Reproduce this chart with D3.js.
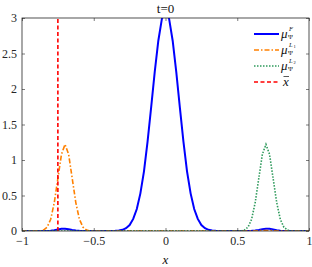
<!DOCTYPE html>
<html>
<head>
<meta charset="utf-8">
<script src="https://cdn.jsdelivr.net/npm/d3@7"></script>
<style>
  body { margin: 0; background: #fff; }
</style>
</head>
<body>
<div id="chart"></div>
<script>
// data: [x, mu] pairs
const blueF = [[-1,0],[-0.85,0],[-0.8,0.005],[-0.775,0.012],[-0.75,0.022],[-0.725,0.03],[-0.7,0.032],[-0.675,0.026],[-0.65,0.016],[-0.625,0.008],[-0.6,0.003],[-0.55,0],
  [-0.375,0],[-0.35,0.002],[-0.325,0.007],[-0.3,0.017],[-0.275,0.039],[-0.25,0.084],[-0.225,0.17],[-0.2,0.31],[-0.175,0.53],[-0.15,0.84],[-0.125,1.26],[-0.1,1.74],[-0.075,2.24],[-0.05,2.68],[-0.025,2.99],
  [0,3.1],[0.025,2.99],[0.05,2.68],[0.075,2.24],[0.1,1.74],[0.125,1.26],[0.15,0.84],[0.175,0.53],[0.2,0.31],[0.225,0.17],[0.25,0.084],[0.275,0.039],[0.3,0.017],[0.325,0.007],[0.35,0.002],[0.375,0],
  [0.55,0],[0.6,0.003],[0.625,0.008],[0.65,0.016],[0.675,0.026],[0.7,0.032],[0.725,0.03],[0.75,0.022],[0.775,0.012],[0.8,0.005],[0.85,0],[1,0]]
const orangeL1 = [[-1,0],[-0.875,0],[-0.85,0.014],[-0.825,0.054],[-0.8,0.165],[-0.775,0.40],[-0.75,0.74],[-0.725,1.08],[-0.7,1.22],[-0.675,1.08],[-0.65,0.74],[-0.625,0.40],[-0.6,0.165],[-0.575,0.054],[-0.55,0.014],[-0.525,0],
  [0.6,0],[0.65,0.004],[0.7,0.008],[0.75,0.004],[0.8,0],[1,0]]
const greenL2 = [[-1,0],[0.525,0],[0.55,0.014],[0.575,0.054],[0.6,0.165],[0.625,0.40],[0.65,0.74],[0.675,1.08],[0.7,1.22],[0.725,1.08],[0.75,0.74],[0.775,0.40],[0.8,0.165],[0.825,0.054],[0.85,0.014],[0.875,0],[1,0]]
const xBar = -0.75
const xTicks = [-1, -0.5, 0, 0.5, 1]
const yTicks = [0, 0.5, 1, 1.5, 2, 2.5, 3]

const FONT = "Liberation Serif, DejaVu Serif, serif"
const width = 312
const height = 267
const margin = { top: 18, right: 3, bottom: 36, left: 22 }
const W = width - margin.left - margin.right
const H = height - margin.top - margin.bottom

const svg = d3.select("#chart").append("svg")
  .attr("width", width).attr("height", height)
  .attr("font-family", FONT)
const g = svg.append("g").attr("transform", `translate(${margin.left},${margin.top})`)

const x = d3.scaleLinear().domain([-1, 1]).range([0, W])
const y = d3.scaleLinear().domain([0, 3]).range([H, 0])

g.append("clipPath").attr("id", "clip")
  .append("rect").attr("width", W).attr("height", H)

const line = d3.line().x(d => x(d[0])).y(d => y(d[1]))
const plot = g.append("g").attr("clip-path", "url(#clip)")

const series = [
  { data: blueF, color: "#0000ff", w: 2, dash: null },
  { data: orangeL1, color: "#ff8000", w: 1.6, dash: "5,2,1.5,2" },
  { data: greenL2, color: "#2e9a5c", w: 1.6, dash: "1.5,1.5" }
]
series.forEach(s => {
  plot.append("path").datum(s.data)
    .attr("d", line)
    .attr("fill", "none")
    .attr("stroke", s.color)
    .attr("stroke-width", s.w)
    .attr("stroke-dasharray", s.dash)
})
plot.append("line")
  .attr("x1", x(xBar)).attr("x2", x(xBar))
  .attr("y1", y(0)).attr("y2", y(3))
  .attr("stroke", "#ff0000").attr("stroke-width", 1.6)
  .attr("stroke-dasharray", "4,2.5")

// axes, ticks inward
function styleAxis(sel) {
  sel.attr("font-family", FONT)
  sel.select(".domain").remove()
  sel.selectAll(".tick line").attr("stroke", "#262626").attr("stroke-width", 0.6)
  sel.selectAll(".tick text").attr("font-size", 12).attr("fill", "#262626")
}
g.append("g").attr("transform", `translate(0,${H})`)
  .call(d3.axisBottom(x).tickValues(xTicks).tickSize(-3).tickPadding(5).tickFormat(d3.format("")))
  .call(styleAxis)
g.append("g")
  .call(d3.axisLeft(y).tickValues(yTicks).tickSize(-3).tickPadding(5).tickFormat(d3.format("")))
  .call(styleAxis)
g.append("g")
  .call(d3.axisTop(x).tickValues(xTicks).tickSize(-3).tickFormat(""))
  .call(styleAxis)
g.append("g").attr("transform", `translate(${W},0)`)
  .call(d3.axisRight(y).tickValues(yTicks).tickSize(-3).tickFormat(""))
  .call(styleAxis)
g.append("rect").attr("width", W).attr("height", H)
  .attr("fill", "none").attr("stroke", "#262626").attr("stroke-width", 0.8)

// title and x label
svg.append("text").attr("x", margin.left + W / 2).attr("y", 13)
  .attr("text-anchor", "middle").attr("font-size", 13).attr("fill", "#111").text("t=0")
svg.append("text").attr("x", margin.left + W / 2).attr("y", 264)
  .attr("text-anchor", "middle").attr("font-size", 13).attr("font-style", "italic").attr("fill", "#111").text("x")

// legend
const legend = [
  { color: "#0000ff", w: 2, dash: null, sup: "F" },
  { color: "#ff8000", w: 1.6, dash: "5,2,1.5,2", sup: "L", sub2: "1" },
  { color: "#2e9a5c", w: 1.6, dash: "1.5,1.5", sup: "L", sub2: "2" },
  { color: "#ff0000", w: 1.6, dash: "4,2.5", bar: true }
]
const lg = svg.append("g").attr("transform", "translate(254,34)").attr("fill", "#111")
legend.forEach((d, i) => {
  const row = lg.append("g").attr("transform", `translate(0,${i * 16})`)
  row.append("line").attr("x1", 0).attr("x2", 25)
    .attr("stroke", d.color).attr("stroke-width", d.w).attr("stroke-dasharray", d.dash)
  if (d.bar) {
    row.append("text").attr("x", 29).attr("y", 4)
      .attr("font-size", 13).attr("font-style", "italic").text("x")
    row.append("line").attr("x1", 29.5).attr("x2", 35).attr("y1", -5.5).attr("y2", -5.5)
      .attr("stroke", "#111").attr("stroke-width", 0.7)
  } else {
    row.append("text").attr("x", 27).attr("y", 4)
      .attr("font-size", 13).attr("font-style", "italic").text("\u03bc")
    row.append("text").attr("x", 34).attr("y", 4.5)
      .attr("font-size", 6.5).text("\u03a8")
    row.append("text").attr("x", 35).attr("y", -3.5)
      .attr("font-size", 6.5).attr("font-style", "italic").text(d.sup)
    if (d.sub2) {
      row.append("text").attr("x", 39.5).attr("y", -2)
        .attr("font-size", 4.5).text(d.sub2)
    }
  }
})
</script>
</body>
</html>
